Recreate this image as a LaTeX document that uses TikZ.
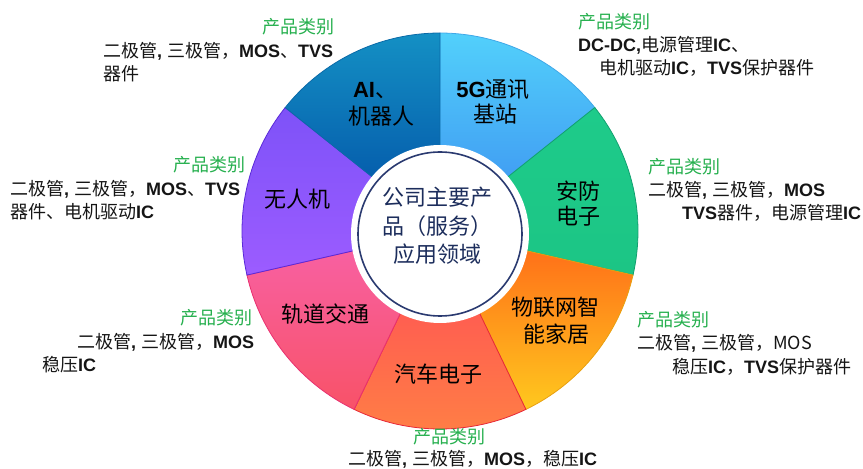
\documentclass[tikz,border=0pt]{standalone}
\usepackage{fontspec}
\setmainfont{Noto Sans CJK SC}
\newfontfamily\lat{Liberation Sans}
\newcommand\B[1]{{\lat\bfseries #1}}
\definecolor{catgreen}{HTML}{27B04F}
\definecolor{navy}{HTML}{1C2D5C}
\definecolor{txt}{HTML}{151515}
\definecolor{aiT}{HTML}{1490C4}\definecolor{aiB}{HTML}{004CA4}\definecolor{aiD}{HTML}{0A6AA8}
\definecolor{fgT}{HTML}{52D0FB}\definecolor{fgB}{HTML}{3B8DF0}\definecolor{fgD}{HTML}{40A8E8}
\definecolor{afT}{HTML}{1ECB8A}\definecolor{afB}{HTML}{1CC585}\definecolor{afD}{HTML}{12A070}
\definecolor{wlT}{HTML}{FF6618}\definecolor{wlB}{HTML}{FFC81E}\definecolor{wlD}{HTML}{E8A010}
\definecolor{qcT}{HTML}{FF4858}\definecolor{qcB}{HTML}{FF7F45}\definecolor{qcD}{HTML}{E82838}
\definecolor{gdT}{HTML}{F862A8}\definecolor{gdB}{HTML}{F85268}\definecolor{gdD}{HTML}{E83070}
\definecolor{wrT}{HTML}{7E52F8}\definecolor{wrB}{HTML}{9C5CFF}\definecolor{wrD}{HTML}{5A2AD8}
\definecolor{ring}{HTML}{2A3A70}
\begin{document}
\begin{tikzpicture}[x=1pt,y=1pt,
  prod/.style={anchor=base west, inner sep=0pt, text=txt, font=\fontsize{18}{20}\selectfont},
  cat/.style={prod, text=catgreen},
  seg/.style={anchor=base, inner sep=0pt, text=black, font=\fontsize{22}{24}\selectfont},
  mid/.style={anchor=base, inner sep=0pt, text=navy, font=\fontsize{22}{24}\selectfont},
  sector/.style={line width=0.8pt}]
\useasboundingbox (0,0) rectangle (863,469);
\coordinate (O) at (440,238);
\def\R{198}
% sectors
\path[sector, draw=fgD, top color=fgT, bottom color=fgB] (O) -- ++(90:\R) arc[start angle=90, end angle=38.57, radius=\R] -- cycle;
\path[sector, draw=afD, top color=afT, bottom color=afB] (O) -- ++(38.57:\R) arc[start angle=38.57, end angle=-12.86, radius=\R] -- cycle;
\path[sector, draw=wlD, top color=wlT, bottom color=wlB] (O) -- ++(-12.86:\R) arc[start angle=-12.86, end angle=-64.29, radius=\R] -- cycle;
\path[sector, draw=qcD, top color=qcT, bottom color=qcB] (O) -- ++(-64.29:\R) arc[start angle=-64.29, end angle=-115.71, radius=\R] -- cycle;
\path[sector, draw=gdD, top color=gdT, bottom color=gdB] (O) -- ++(-115.71:\R) arc[start angle=-115.71, end angle=-167.14, radius=\R] -- cycle;
\path[sector, draw=wrD, top color=wrT, bottom color=wrB] (O) -- ++(-167.14:\R) arc[start angle=-167.14, end angle=-218.57, radius=\R] -- cycle;
\path[sector, draw=aiD, top color=aiT, bottom color=aiB] (O) -- ++(141.43:\R) arc[start angle=141.43, end angle=90, radius=\R] -- cycle;
% centre disk
\fill[white] (440,235) circle[radius=89];
\draw[ring, line width=1.6pt] (440,235) circle[radius=82];
\node[mid] (m1) at (437,263) {公司主要产};
\node[mid] (m2) at (437,234) {品（服务）};
\node[mid] (m3) at (437,206) {应用领域};
% segment labels
\node[seg] (s1a) at (375,371) {\B{AI}、};
\node[seg] (s1b) at (381,344) {机器人};
\node[seg] (s2a) at (493,371) {\B{5G}通讯};
\node[seg] (s2b) at (495,346) {基站};
\node[seg] (s3a) at (578,269) {安防};
\node[seg] (s3b) at (578,244) {电子};
\node[seg] (s4a) at (555,153) {物联网智};
\node[seg] (s4b) at (556,126) {能家居};
\node[seg] (s5) at (438,86) {汽车电子};
\node[seg] (s6) at (325,146) {轨道交通};
\node[seg] (s7) at (297,261) {无人机};
% product blocks
\node[cat] (c1) at (262,435) {产品类别};
\node[prod] (p1a) at (103,411) {二极管\B{, }三极管，\B{MOS}、\B{TVS}};
\node[prod] (p1b) at (103,388) {器件};
\node[cat] (c2) at (173,297) {产品类别};
\node[prod] (p2a) at (10,273) {二极管\B{, }三极管，\B{MOS}、\B{TVS}};
\node[prod] (p2b) at (10,250) {器件、电机驱动\B{IC}};
\node[cat] (c3) at (578,440) {产品类别};
\node[prod] (p3a) at (578,417) {\B{DC-DC,}电源管理\B{IC}、};
\node[prod] (p3b) at (599,394) {电机驱动\B{IC}，\B{TVS}保护器件};
\node[cat] (c4) at (648,295) {产品类别};
\node[prod] (p4a) at (648,272) {二极管\B{, }三极管，\B{MOS}};
\node[prod] (p4b) at (682,249) {\B{TVS}器件，电源管理\B{IC}};
\node[cat] (c5) at (637,142) {产品类别};
\node[prod] (p5a) at (637,119) {二极管\B{, }三极管，MOS};
\node[prod] (p5b) at (672,95) {稳压\B{IC}，\B{TVS}保护器件};
\node[cat] (c6) at (180,144) {产品类别};
\node[prod] (p6a) at (77,120) {二极管\B{, }三极管，\B{MOS}};
\node[prod] (p6b) at (42,97) {稳压\B{IC}};
\node[cat] (c7) at (413,25) {产品类别};
\node[prod] (p7a) at (348,3) {二极管\B{, }三极管，\B{MOS}，稳压\B{IC}};
\end{tikzpicture}
\end{document}
